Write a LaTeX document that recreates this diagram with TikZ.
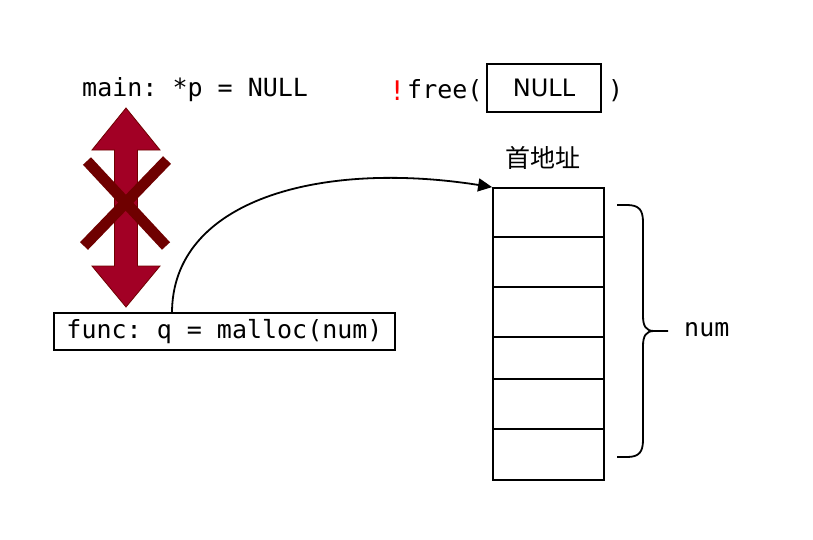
\documentclass[tikz,border=0pt]{standalone}
\usepackage{fontspec}
\setmainfont{DejaVu Sans}
\setsansfont{DejaVu Sans}
\setmonofont{DejaVu Sans Mono}
\newfontfamily\cjk{Noto Sans CJK SC}
\usetikzlibrary{arrows.meta}
\definecolor{arrfill}{HTML}{A20025}
\definecolor{arrline}{HTML}{6F0000}
\begin{document}
\begin{tikzpicture}[x=1pt,y=-1pt,
  mono/.style={font=\ttfamily\fontsize{25}{29}\selectfont, inner sep=0pt},
  sanstxt/.style={font=\sffamily\fontsize{24}{28}\selectfont, inner sep=0pt},
  boxed/.style={draw=black, line width=1.8pt},
  conn/.style={draw=black, line width=1.8pt}]
\useasboundingbox[fill=white] (0,0) rectangle (813,539);

% top texts
\node[mono, anchor=west] (maintxt) at (82,90) {main: *p = NULL};
\node[sanstxt, text=red, anchor=east, font=\sffamily\fontsize{27}{30}\selectfont] (bang) at (403,91) {!};
\node[mono, anchor=west] (freetxt) at (407,91) {free(};
\node[boxed, sanstxt, minimum width=114pt, minimum height=48pt] (nullbox) at (544,88) {NULL};
\node[mono, anchor=west] (close) at (608,91) {)};
\node[font=\cjk\fontsize{25}{29}\selectfont, inner sep=0pt] (addr) at (543,158) {首地址};

% double arrow
\path[fill=arrfill, draw=arrline, line width=0.8pt]
  (126,108) -- (160,150) -- (137.5,150) -- (137.5,266) -- (160,266) -- (126,307)
  -- (92,266) -- (114.5,266) -- (114.5,150) -- (92,150) -- cycle;
% cross
\draw[arrline, line width=11pt] (87,161) -- (166,246);
\draw[arrline, line width=11pt] (167,160) -- (84,246);

% func box
\node[boxed, mono, minimum width=341pt, minimum height=37pt] (func) at (224.5,331.5) {func: q = malloc(num)};
\coordinate (cs) at (172,313);

% memory array
\node[boxed, minimum width=111pt, minimum height=292pt, inner sep=0pt] (mem) at (548.5,334) {};
\foreach \yy in {237,287,337,379,429}{
  \draw[line width=1.8pt] (mem.west |- 0,\yy) -- (mem.east |- 0,\yy);
}

% curve arrow
\draw[conn, -{Triangle[length=14pt,width=13pt]}] (cs) .. controls (172,200) and (320,160) .. (mem.north west);

% brace
\draw[line width=1.8pt] (617,205) -- (627,205) .. controls (639,205) and (643,210) .. (643,222)
  -- (643,316) .. controls (643,326) and (646,331) .. (654,331) -- (668,331);
\draw[line width=1.8pt] (617,457) -- (627,457) .. controls (639,457) and (643,452) .. (643,440)
  -- (643,346) .. controls (643,336) and (646,331) .. (654,331);
\coordinate (bracetip) at (668,331);
\node[mono, anchor=west] (num) at (684,330) {num};
\end{tikzpicture}
\end{document}
